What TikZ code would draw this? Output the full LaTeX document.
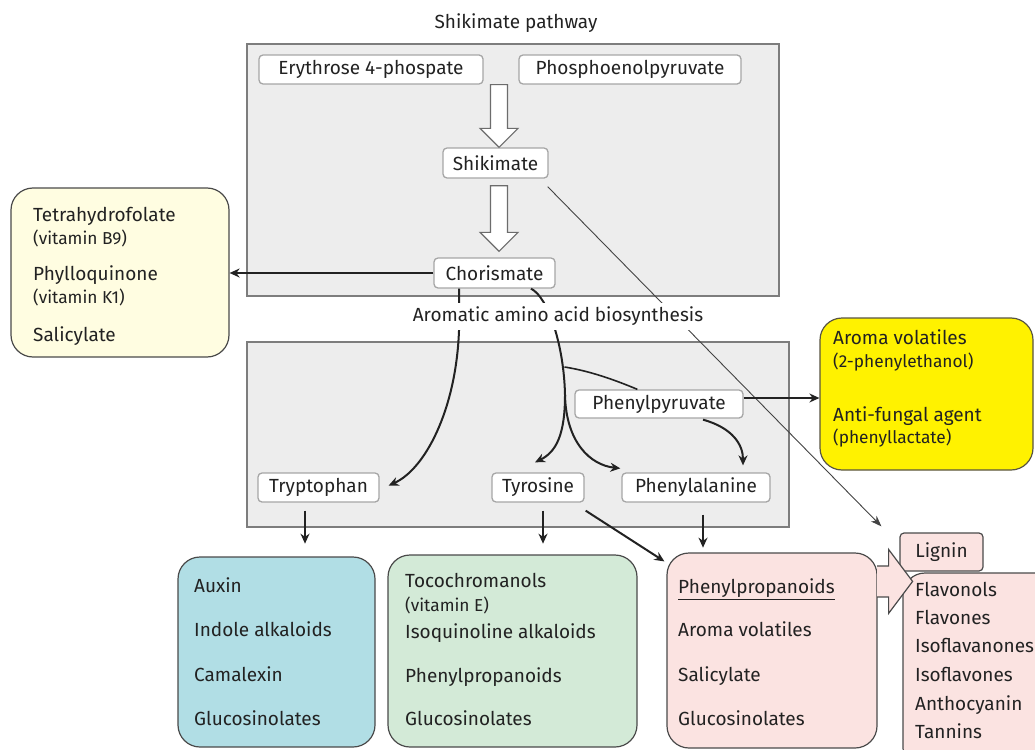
\documentclass[tikz,border=0pt]{standalone}
\usepackage{fontspec}
\setmainfont{Fira Sans}
\usetikzlibrary{arrows.meta,calc}
\definecolor{contour}{HTML}{7D7D7D}
\definecolor{contfill}{HTML}{EDEDED}
\definecolor{wborder}{HTML}{A6A6A6}
\definecolor{lyel}{HTML}{FFFDE1}
\definecolor{yel}{HTML}{FFF200}
\definecolor{lblue}{HTML}{B1DEE5}
\definecolor{lgreen}{HTML}{D3EAD7}
\definecolor{lpink}{HTML}{FBE3E1}
\definecolor{bdark}{HTML}{4A4A4A}
\definecolor{ink}{HTML}{222222}
\newcommand\fmain{\fontsize{19}{22}\selectfont}
\newcommand\fsmall{\fontsize{17.3}{20}\selectfont}
\newcommand\hollowarrow[2]{\draw[harrow] ($(#1)+(-8.5,0)$) -- ($(#2)+(-8.5,-19)$) -- ($(#2)+(-19,-19)$) -- (#2) -- ($(#2)+(19,-19)$) -- ($(#2)+(8.5,-19)$) -- ($(#1)+(8.5,0)$) -- cycle;}
\tikzset{
  cont/.style={draw=contour, fill=contfill, line width=2.5, inner sep=0},
  wbox/.style={draw=wborder, fill=white, rounded corners=4, line width=1.3, minimum height=29, inner sep=0, font=\fmain, text=ink},
  lbox/.style={draw=bdark, line width=1.2, rounded corners=22, inner sep=0},
  itm/.style={anchor=mid west, inner sep=0, font=\fmain, text=ink},
  sub/.style={anchor=mid west, inner sep=0, font=\fsmall, text=ink},
  conn/.style={draw=ink, line width=2, -{Stealth[length=10,width=9]}},
  plainconn/.style={draw=ink, line width=2},
  thinarr/.style={draw=ink!85, line width=0.9, -{Stealth[length=11,width=8]}},
  harrow/.style={draw=gray!85!black, fill=white, line width=1.2},
  pinkarr/.style={draw=bdark, fill=lpink, line width=1.2},
}
\begin{document}
\begin{tikzpicture}[x=1pt,y=-1pt]
\useasboundingbox (0,0) rectangle (1035,749);
% title
\node[font=\fmain, text=ink, anchor=mid] (title) at (516,26) {Shikimate pathway};
% containers
\node[cont, minimum width=532, minimum height=252] (topc) at (513,170) {};
\node[cont, minimum width=542, minimum height=185] (lowc) at (518,434.5) {};
% top white boxes
\node[wbox, minimum width=224] (e4p) at (371,69.5) {Erythrose 4-phospate};
\node[wbox, minimum width=222] (pep) at (630,69.5) {Phosphoenolpyruvate};
\node[wbox, minimum width=105, minimum height=30] (shik) at (495.5,163) {Shikimate};
\node[wbox, minimum width=121, minimum height=30] (chor) at (494.5,273) {Chorismate};
% hollow arrows
\coordinate (h1tip) at ($(shik.north)+(3.5,0)$);
\coordinate (h1top) at (h1tip |- e4p.south);
\coordinate (h2tip) at ($(chor.north)+(4.5,-6)$);
\coordinate (h2top) at ($(shik.south)+(3.5,7)$);
\hollowarrow{h1top}{h1tip}
\hollowarrow{h2top}{h2tip}
% lower white boxes
\node[wbox, minimum width=168, minimum height=28] (pp) at (659,404) {Phenylpyruvate};
\node[wbox, minimum width=121] (tryp) at (318.5,487.5) {Tryptophan};
\node[wbox, minimum width=92] (tyr) at (538,487.5) {Tyrosine};
\node[wbox, minimum width=148] (phe) at (696,487.5) {Phenylalanine};
% side boxes
\node[lbox, fill=lyel, minimum width=218, minimum height=169] (lbx) at (120,272.5) {};
\node[lbox, fill=yel, draw=black!75!yellow, minimum width=213, minimum height=152] (ybx) at (926.5,394) {};
\node[lbox, fill=lblue, minimum width=197, minimum height=190] (bbx) at (276.5,652) {};
\node[lbox, fill=lgreen, minimum width=249, minimum height=192] (gbx) at (512.5,651) {};
\node[lbox, fill=lpink, minimum width=157, minimum height=197] (fbx) at (981.5,671.5) {};
\node[draw=bdark, fill=lpink, line width=1.2, rounded corners=4, minimum width=83, minimum height=38, inner sep=0, font=\fmain, text=ink] (lig) at (941.5,552) {Lignin};
\node[lbox, fill=lpink, minimum width=210, minimum height=195] (pbx) at (772,650.5) {};
% pink hollow arrow
\coordinate (parr) at ($(pbx.north east)+(0,29)$);
\draw[pinkarr] ($(parr)+(-0.6,-15.5)$) -- ($(parr)+(11,-15.5)$) -- ($(parr)+(11,-32)$) -- ($(parr)+(35,0)$) -- ($(parr)+(11,32)$) -- ($(parr)+(11,15.5)$) -- ($(parr)+(-0.6,15.5)$);
% connectors
\coordinate (ligtip) at ($(lig.north west)+(-18,-6)$);
\draw[thinarr] ($(shik.south east)+(-1,8)$) -- (ligtip);
\draw[conn] (chor.west) -- (chor.west -| lbx.east);
\coordinate (trpa) at ($(chor.south)+(-35.5,0)$);
\coordinate (trptip) at ($(tryp.east)+(9,-2)$);
\draw[conn] (trpa) -- ++(0,42) .. controls ++(-3,80) and ($(trptip)+(36,-16)$) .. (trptip);
\coordinate (stemtop) at ($(chor.south)+(36.5,0)$);
\coordinate (fork) at (565,395);
\draw[plainconn] (stemtop) .. controls (548,297) and (564,345) .. (fork);
\coordinate (ppbr) at (564.5,367);
\draw[plainconn, line width=1.6] (ppbr) .. controls (590,371) and (615,380) .. ($(pp.north west)+(63,0)$);
\draw[conn] (fork) .. controls (565,435) and (556,452) .. ($(tyr.north)+(-3,-10)$);
\draw[conn] (fork) .. controls (566,442) and (590,465) .. ($(phe.north west)+(-1,-4)$);
\draw[conn] ($(pp.south)+(44,1)$) .. controls (733,428) and (743,445) .. ($(phe.north)+(47,-7)$);
\coordinate (ppe) at ($(pp.east)+(0,-6)$);
\draw[conn] (ppe) -- (ppe -| ybx.west);
\draw[conn] ($(tryp.south)+(-13.5,8)$) -- ++(0,33);
\draw[conn] ($(tyr.south)+(5,8)$) -- ++(0,33);
\draw[conn] ($(phe.south)+(7,12)$) -- ++(0,33);
\draw[conn] ($(tyr.south east)+(1,8)$) -- ($(pbx.north west)+(-2,9)$);
% middle label
\node[fill=white, font=\fmain, text=ink, inner xsep=2, inner ysep=4, anchor=mid] (aaa) at (558,319) {Aromatic amino acid biosynthesis};
% left box texts
\node[itm] (t1) at (33,219) {Tetrahydrofolate};
\node[sub] (t1s) at (33,242) {(vitamin B9)};
\node[itm] (t2) at (33,278) {Phylloquinone};
\node[sub] (t2s) at (33,301) {(vitamin K1)};
\node[itm] (t3) at (33,339) {Salicylate};
% yellow texts
\node[itm] (y1) at (833,342) {Aroma volatiles};
\node[sub] (y1s) at (833,365) {(2-phenylethanol)};
\node[itm] (y2) at (833,419) {Anti-fungal agent};
\node[sub] (y2s) at (833,441) {(phenyllactate)};
% blue texts
\node[itm] (b1) at (194,590) {Auxin};
\node[itm] (b2) at (194,634) {Indole alkaloids};
\node[itm] (b3) at (194,679) {Camalexin};
\node[itm] (b4) at (194,723) {Glucosinolates};
% green texts
\node[itm] (g1) at (405,585) {Tocochromanols};
\node[sub] (g1s) at (405,609) {(vitamin E)};
\node[itm] (g2) at (405,636) {Isoquinoline alkaloids};
\node[itm] (g3) at (405,680) {Phenylpropanoids};
\node[itm] (g4) at (405,723) {Glucosinolates};
% pink texts
\node[itm] (p1) at (678,591) {\underline{Phenylpropanoids}};
\node[itm] (p2) at (678,634) {Aroma volatiles};
\node[itm] (p3) at (678,679) {Salicylate};
\node[itm] (p4) at (678,723) {Glucosinolates};
% flavonoid texts
\node[itm] (f1) at (915,594) {Flavonols};
\node[itm] (f2) at (915,622) {Flavones};
\node[itm] (f3) at (915,650) {Isoflavanones};
\node[itm] (f4) at (915,679) {Isoflavones};
\node[itm] (f5) at (915,708) {Anthocyanin};
\node[itm] (f6) at (915,736) {Tannins};
\end{tikzpicture}
\end{document}
